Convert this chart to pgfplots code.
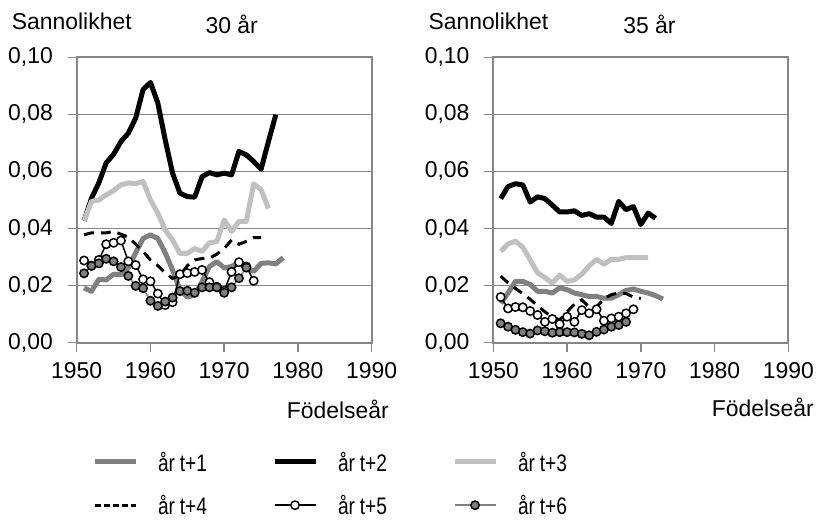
\documentclass[border=0pt]{standalone}
\usepackage{fontspec}
\setmainfont{Liberation Sans}
\newfontfamily\legfont{Liberation Sans}[FakeStretch=0.8]
\usepackage{pgfplots}
\pgfplotsset{compat=1.18}

\definecolor{gridgray}{RGB}{134,134,134}
\definecolor{midgray}{RGB}{128,128,128}
\definecolor{palegray}{RGB}{192,192,192}

\pgfplotsset{
  panel/.style={
    scale only axis, width=295bp, height=285.4bp,
    xmin=1950, xmax=1990, ymin=0, ymax=0.1,
    xtick={1950,1960,1970,1980,1990},
    xticklabels={1950,1960,1970,1980,1990},
    ytick={0,0.02,0.04,0.06,0.08,0.1},
    yticklabels={{0,00},{0,02},{0,04},{0,06},{0,08},{0,10}},
    xtick pos=bottom, ytick pos=left,
    tick align=outside, major tick length=9bp,
    axis line style={gridgray, line width=2bp},
    tick style={gridgray, line width=1.5bp},
    ymajorgrids, grid style={gridgray, line width=1.5bp},
    ticklabel style={font=\fontsize{23}{27}\selectfont, inner sep=0pt},
    yticklabel style={xshift=-14.7bp},
    xticklabel style={yshift=-11bp},
    clip=false,
  },
  t1/.style={midgray, line width=5bp, line join=round, no marks},
  t2/.style={black, line width=5bp, line join=round, no marks},
  t3/.style={palegray, line width=5bp, line join=round, no marks},
  t4/.style={black, line width=3bp, dash pattern=on 10bp off 7bp, no marks},
  t5/.style={black, line width=1.5bp, mark=*, mark size=4.2bp,
    mark options={solid, fill=white, draw=black, line width=1.5bp}},
  t6/.style={midgray, line width=1.5bp, mark=*, mark size=4.2bp,
    mark options={solid, fill=midgray, draw=black, line width=1.5bp}},
  legend image code/.code={
    \draw[mark repeat=2, mark phase=2, #1] plot coordinates {(0bp,0bp) (20.5bp,0bp) (41bp,0bp)};
  },
}
\newcommand{\ar}[1]{år\hspace{0.2em}t+#1}

\begin{document}
\begin{tikzpicture}
\useasboundingbox (0,0) rectangle (828bp,520bp);

% left panel: 30 years
\begin{axis}[panel, at={(76.7bp,177.3bp)}, anchor=south west,
  legend columns=3, legend cell align=left,
  legend style={at={(0.0519,-0.3837)}, anchor=north west, draw=none, fill=none,
    inner sep=0pt, outer sep=0pt, row sep=24.5bp,
    /tikz/every odd column/.append style={column sep=20bp},
    /tikz/every even column/.append style={column sep=64bp},
    nodes={inner sep=0pt, text width=50bp, align=left, text height=19bp, text depth=0bp,
      font=\legfont\fontsize{24}{28}\selectfont}},
]
\addplot[t1] coordinates {
 (1951,0.0192) (1952,0.0180) (1953,0.0222) (1954,0.0220) (1955,0.0240) (1956,0.0238)
 (1957,0.0262) (1958,0.0315) (1959,0.0365) (1960,0.0378) (1961,0.0365) (1962,0.0315)
 (1963,0.0255) (1964,0.0185) (1965,0.0160) (1966,0.0167) (1967,0.0214) (1968,0.0267)
 (1969,0.0284) (1970,0.0262) (1971,0.0267) (1972,0.0280) (1973,0.0262) (1974,0.0250)
 (1975,0.0278) (1976,0.0280) (1977,0.0276) (1978,0.0298)
};
\addlegendentry{\ar{1}}
\addplot[t2] coordinates {
 (1951,0.0427) (1952,0.0506) (1953,0.0560) (1954,0.0630) (1955,0.0660) (1956,0.0705)
 (1957,0.0734) (1958,0.0787) (1959,0.0887) (1960,0.0912) (1961,0.0840) (1962,0.0711)
 (1963,0.0594) (1964,0.0524) (1965,0.0512) (1966,0.0510) (1967,0.0582) (1968,0.0596)
 (1969,0.0588) (1970,0.0594) (1971,0.0588) (1972,0.0670) (1973,0.0658) (1974,0.0635)
 (1975,0.0608) (1976,0.0705) (1977,0.0799)
};
\addlegendentry{\ar{2}}
\addplot[t3] coordinates {
 (1951,0.0427) (1952,0.0495) (1953,0.0500) (1954,0.0518) (1955,0.0533) (1956,0.0553)
 (1957,0.0560) (1958,0.0557) (1959,0.0565) (1960,0.0500) (1961,0.0454) (1962,0.0395)
 (1963,0.0360) (1964,0.0313) (1965,0.0313) (1966,0.0330) (1967,0.0320) (1968,0.0350)
 (1969,0.0354) (1970,0.0430) (1971,0.0390) (1972,0.0425) (1973,0.0425) (1974,0.0557)
 (1975,0.0536) (1976,0.0470)
};
\addlegendentry{\ar{3}}
\addplot[t4, forget plot] coordinates {
 (1951,0.0378) (1952,0.0385) (1953,0.0385) (1954,0.0385) (1955,0.0390) (1956,0.0380)
 (1957,0.0370) (1958,0.0345) (1959,0.0320) (1960,0.0290) (1961,0.0270) (1962,0.0245)
 (1963,0.0225) (1964,0.0235) (1965,0.0270) (1966,0.0290) (1967,0.0295) (1968,0.0296)
 (1969,0.0310) (1970,0.0330) (1971,0.0360) (1972,0.0345) (1973,0.0355) (1974,0.0368)
 (1975,0.0368)
};
\addlegendimage{black, line width=3bp, dash pattern=on 6bp off 3bp}
\addlegendentry{\ar{4}}
\addplot[t5] coordinates {
 (1951,0.0288) (1952,0.0270) (1953,0.0290) (1954,0.0345) (1955,0.0350) (1956,0.0358)
 (1957,0.0285) (1958,0.0272) (1959,0.0222) (1960,0.0215) (1961,0.0172) (1962,0.0132)
 (1963,0.0142) (1964,0.0240) (1965,0.0244) (1966,0.0248) (1967,0.0255) (1968,0.0212)
 (1969,0.0196) (1970,0.0182) (1971,0.0248) (1972,0.0282) (1973,0.0267) (1974,0.0217)
};
\addlegendentry{\ar{5}}
\addplot[t6] coordinates {
 (1951,0.0243) (1952,0.0269) (1953,0.0278) (1954,0.0294) (1955,0.0285) (1956,0.0265)
 (1957,0.0234) (1958,0.0199) (1959,0.0191) (1960,0.0147) (1961,0.0129) (1962,0.0144)
 (1963,0.0158) (1964,0.0181) (1965,0.0182) (1966,0.0175) (1967,0.0194) (1968,0.0194)
 (1969,0.0194) (1970,0.0175) (1971,0.0194) (1972,0.0226) (1973,0.0263)
};
\addlegendentry{\ar{6}}
\end{axis}

% right panel: 35 years
\begin{axis}[panel, at={(493.3bp,177.3bp)}, anchor=south west]
\addplot[t1] coordinates {
 (1951,0.0138) (1952,0.0174) (1953,0.0215) (1954,0.0215) (1955,0.0204) (1956,0.0180)
 (1957,0.0180) (1958,0.0174) (1959,0.0192) (1960,0.0186) (1961,0.0174) (1962,0.0168)
 (1963,0.0162) (1964,0.0162) (1965,0.0156) (1966,0.0156) (1967,0.0168) (1968,0.0183)
 (1969,0.0188) (1970,0.0180) (1971,0.0174) (1972,0.0165) (1973,0.0153)
};
\addplot[t2] coordinates {
 (1951,0.0505) (1952,0.0547) (1953,0.0557) (1954,0.0553) (1955,0.0493) (1956,0.0511)
 (1957,0.0505) (1958,0.0482) (1959,0.0458) (1960,0.0458) (1961,0.0462) (1962,0.0446)
 (1963,0.0452) (1964,0.0440) (1965,0.0440) (1966,0.0418) (1967,0.0495) (1968,0.0466)
 (1969,0.0477) (1970,0.0414) (1971,0.0454) (1972,0.0436)
};
\addplot[t3] coordinates {
 (1951,0.0320) (1952,0.0346) (1953,0.0356) (1954,0.0334) (1955,0.0290) (1956,0.0245)
 (1957,0.0228) (1958,0.0209) (1959,0.0237) (1960,0.0215) (1961,0.0220) (1962,0.0240)
 (1963,0.0269) (1964,0.0292) (1965,0.0275) (1966,0.0292) (1967,0.0292) (1968,0.0298)
 (1969,0.0298) (1970,0.0298) (1971,0.0298)
};
\addplot[t4] coordinates {
 (1951,0.0233) (1952,0.0210) (1953,0.0190) (1954,0.0172) (1955,0.0152) (1956,0.0130)
 (1957,0.0108) (1958,0.0090) (1959,0.0080) (1960,0.0108) (1961,0.0135) (1962,0.0150)
 (1963,0.0125) (1964,0.0125) (1965,0.0155) (1966,0.0168) (1967,0.0175) (1968,0.0172)
 (1969,0.0160) (1970,0.0155)
};
\addplot[t5] coordinates {
 (1951,0.0160) (1952,0.0120) (1953,0.0125) (1954,0.0124) (1955,0.0111) (1956,0.0097)
 (1957,0.0073) (1958,0.0083) (1959,0.0065) (1960,0.0091) (1961,0.0073) (1962,0.0114)
 (1963,0.0103) (1964,0.0117) (1965,0.0077) (1966,0.0085) (1967,0.0091) (1968,0.0103)
 (1969,0.0117)
};
\addplot[t6] coordinates {
 (1951,0.0068) (1952,0.0056) (1953,0.0045) (1954,0.0037) (1955,0.0032) (1956,0.0043)
 (1957,0.0040) (1958,0.0035) (1959,0.0037) (1960,0.0037) (1961,0.0036) (1962,0.0031)
 (1963,0.0026) (1964,0.0038) (1965,0.0046) (1966,0.0056) (1967,0.0062) (1968,0.0073)
};
\end{axis}

\begin{scope}[every node/.style={inner sep=0pt, font=\fontsize{23}{27}\selectfont}]
\node[anchor=base west] at (11.7bp,490.7bp) {Sannolikhet};
\node[anchor=base] at (231.7bp,486.7bp) {30 år};
\node[anchor=base west] at (428.3bp,490.7bp) {Sannolikhet};
\node[anchor=base] at (649.5bp,486.7bp) {35 år};
\node[anchor=base west] at (286.7bp,101.7bp) {Födelseår};
\node[anchor=base west] at (711.7bp,103.3bp) {Födelseår};
\end{scope}
\end{tikzpicture}
\end{document}
